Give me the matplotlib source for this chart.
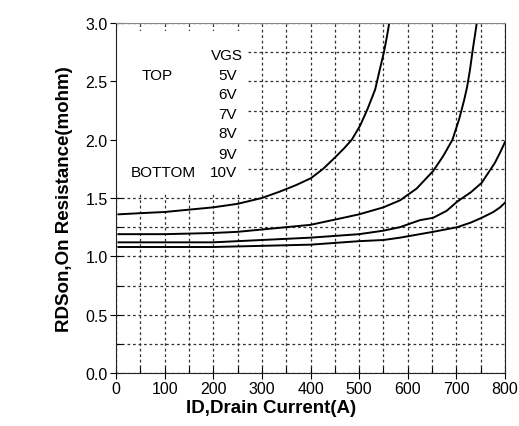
import matplotlib
matplotlib.use("Agg")
import matplotlib.pyplot as plt
from matplotlib.ticker import MultipleLocator

plt.rcParams['font.family'] = ['Liberation Sans', 'DejaVu Sans']

# curves (ID in A, RDSon in mohm)
id_top = [5, 50, 100, 150, 200, 250, 300, 337, 370, 401, 426, 451, 470, 485, 502, 517, 533, 543, 551, 557, 562]
rds_top = [1.36, 1.37, 1.38, 1.40, 1.42, 1.45, 1.50, 1.555, 1.61, 1.67, 1.75, 1.85, 1.93, 2.0, 2.12, 2.26, 2.43, 2.61, 2.75, 2.88, 3.0]

id_2 = [5, 100, 200, 250, 300, 350, 400, 467, 500, 550, 584, 618, 652, 673, 692, 706, 716, 722, 728, 734, 738, 742]
rds_2 = [1.19, 1.19, 1.20, 1.21, 1.23, 1.25, 1.27, 1.33, 1.36, 1.42, 1.48, 1.58, 1.73, 1.86, 2.0, 2.18, 2.34, 2.45, 2.6, 2.78, 2.89, 3.0]

id_3 = [5, 100, 200, 300, 400, 500, 550, 584, 625, 652, 680, 702, 730, 752, 779, 790, 800]
rds_3 = [1.12, 1.12, 1.12, 1.14, 1.16, 1.19, 1.22, 1.25, 1.31, 1.33, 1.39, 1.47, 1.55, 1.63, 1.80, 1.89, 1.98]

id_bottom = [5, 100, 200, 300, 400, 500, 550, 584, 652, 702, 730, 752, 776, 790, 800]
rds_bottom = [1.08, 1.08, 1.08, 1.09, 1.10, 1.13, 1.14, 1.16, 1.21, 1.25, 1.29, 1.33, 1.38, 1.42, 1.46]

vgs_labels = ["5V", "6V", "7V", "8V", "9V", "10V"]

fig = plt.figure(figsize=(5.19, 4.27), dpi=100)
ax = fig.add_axes([116/519, 53/427, 389/519, 350/427])

ax.set_xlim(0, 800)
ax.set_ylim(0, 3.0)
ax.xaxis.set_major_locator(MultipleLocator(100))
ax.xaxis.set_minor_locator(MultipleLocator(50))
ax.yaxis.set_major_locator(MultipleLocator(0.5))
ax.yaxis.set_minor_locator(MultipleLocator(0.25))
ax.yaxis.set_major_formatter(plt.FormatStrFormatter('%.1f'))

ax.set_axisbelow(True)
ax.grid(which='both', color='#333333', linestyle=(0, (2.2, 2.2)), linewidth=0.9)

ax.tick_params(which='major', direction='inout', length=8, width=0.8, labelsize=11.5, pad=2)
ax.tick_params(which='minor', direction='in', length=4, width=0.8)

for s in ['left', 'bottom', 'right']:
    ax.spines[s].set_color('#222222')
ax.spines['top'].set_color('#888888')

# white area behind the legend text
ax.add_patch(plt.Rectangle((0, 1.55), 270, 1.38, facecolor='white', edgecolor='none', zorder=1))

for xs, ys in [(id_top, rds_top), (id_2, rds_2), (id_3, rds_3), (id_bottom, rds_bottom)]:
    ax.plot(xs, ys, color='black', linewidth=1.4, zorder=2, solid_joinstyle='round')

# legend text
fs = 11
ax.text(262, 2.73, "VGS", ha='right', va='center', fontsize=fs, zorder=3)
ax.text(85, 2.55, "TOP", ha='center', va='center', fontsize=fs, zorder=3)
ax.text(97, 1.72, "BOTTOM", ha='center', va='center', fontsize=fs, zorder=3)
ypos = [2.55, 2.39, 2.22, 2.06, 1.88, 1.72]
for lab, yy in zip(vgs_labels, ypos):
    ax.text(249, yy, lab, ha='right', va='center', fontsize=fs, zorder=3)

ax.set_xlabel("ID,Drain Current(A)", fontsize=13.5, fontweight='bold', x=0.398, labelpad=2)
ax.set_ylabel("RDSon,On Resistance(mohm)", fontsize=13.5, fontweight='bold', labelpad=9)

fig.savefig("out.png", dpi=100)
